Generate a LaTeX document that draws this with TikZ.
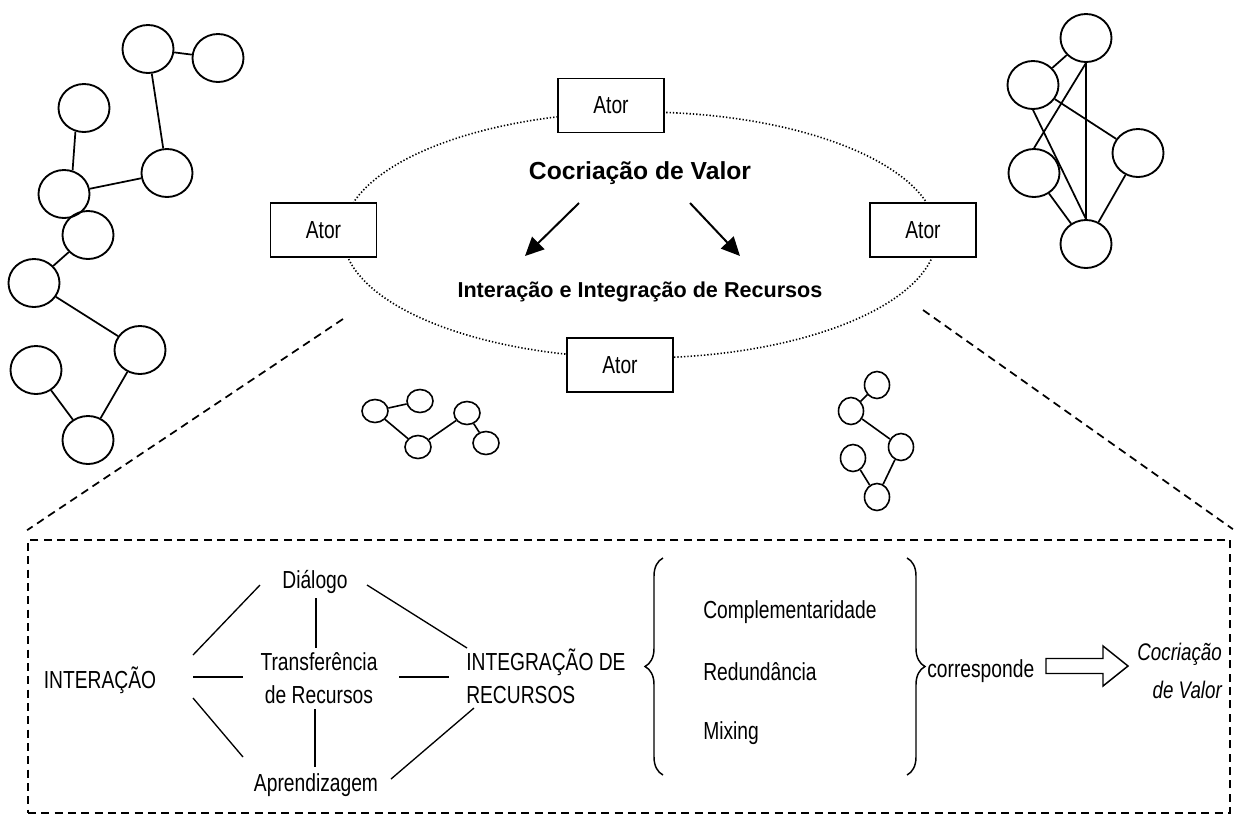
\documentclass[tikz,border=0pt]{standalone}
\usepackage{fontspec}
\setmainfont{Liberation Sans}
\newfontfamily\condfont{Liberation Sans}[FakeStretch=0.78]
\usetikzlibrary{shapes.geometric,arrows.meta,calc,decorations.pathreplacing}

\begin{document}
\begin{tikzpicture}[x=0.75pt,y=-0.75pt,
  bubble/.style={ellipse,draw,line width=1.4pt,minimum width=38.25pt,minimum height=36pt,inner sep=0pt},
  smallbub/.style={ellipse,draw,line width=1.2pt,minimum width=19.5pt,minimum height=17.25pt,inner sep=0pt},
  tallbub/.style={ellipse,draw,line width=1.2pt,minimum width=18.75pt,minimum height=20.25pt,inner sep=0pt},
  netline/.style={line width=1.3pt},
  atorbox/.style={draw,fill=white,line width=1.4pt,minimum width=79.5pt,minimum height=40.5pt,inner sep=0pt,
                  font=\condfont\fontsize{18.5}{22}\selectfont},
  txt/.style={inner sep=0pt,font=\condfont\fontsize{18.5}{24.5}\selectfont},
  joinline/.style={line width=1pt},
  zoomline/.style={line width=1.3pt,dash pattern=on 6pt off 4pt},
  flowarrow/.style={line width=1.5pt,-{Triangle[length=14pt,width=13pt]}},
]
\useasboundingbox (0,0) rectangle (1235,815);
\fill[white] (0,0) rectangle (1235,815);

% ---------- network, upper left ----------
\node[bubble] (A) at (148,49) {};
\node[bubble] (B) at (218,58) {};
\node[bubble] (C) at (84,108) {};
\node[bubble] (D) at (167,173) {};
\node[bubble] (E) at (64,194) {};
\node[bubble] (F) at (88,235) {};
\node[bubble] (G) at (34,283) {};
\node[bubble] (H) at (140,350) {};
\node[bubble] (I) at (36,370) {};
\node[bubble] (J) at (88,440) {};
\draw[netline] (A) -- (B);
\draw[netline] (A) -- (D);
\draw[netline] (C.250) -- (E.70);
\draw[netline] (E) -- (D);
\draw[netline] (F) -- (G);
\draw[netline] (G) -- (H);
\draw[netline] (I) -- (J);
\draw[netline] (H) -- (J);

% ---------- network, upper right ----------
\node[bubble] (P1) at (1086,38) {};
\node[bubble] (P2) at (1033,85) {};
\node[bubble] (P3) at (1138,153) {};
\node[bubble] (P4) at (1034,173) {};
\node[bubble] (P5) at (1086,244) {};
\draw[netline] (P1) -- (P2);
\draw[netline] (P1.south) -- (P4.north);
\draw[netline] (P1.south) -- (P5.north);
\draw[netline] (P2) -- (P3);
\draw[netline] (P2.south) -- (P5.north);
\draw[netline] (P4) -- (P5);
\draw[netline] (P3) -- (P5);

% ---------- small networks ----------
\node[smallbub] (S1) at (375,411) {};
\node[smallbub] (S2) at (420,401) {};
\node[smallbub] (S3) at (418,447) {};
\node[smallbub] (S4) at (467,413) {};
\node[smallbub] (S5) at (486,443) {};
\draw[netline,line width=1.2pt] (S1) -- (S2);
\draw[netline,line width=1.2pt] (S1) -- (S3);
\draw[netline,line width=1.2pt] (S3) -- (S4);
\draw[netline,line width=1.2pt] (S4) -- (S5);

\node[tallbub] (T1) at (877,385) {};
\node[tallbub] (T2) at (851,411) {};
\node[tallbub] (T3) at (901,447) {};
\node[tallbub] (T4) at (853,458) {};
\node[tallbub] (T5) at (877,497) {};
\draw[netline,line width=1.2pt] (T1) -- (T2);
\draw[netline,line width=1.2pt] (T2) -- (T3);
\draw[netline,line width=1.2pt] (T3) -- (T5);
\draw[netline,line width=1.2pt] (T4) -- (T5);

% ---------- actors around the value co-creation ring ----------
\node[ellipse,draw,line width=1.2pt,dash pattern=on 1pt off 1.5pt,
      minimum width=445.5pt,minimum height=184.5pt,inner sep=0pt] (ring) at (640,235) {};
\node[atorbox] (atorT) at (611,105.5) {Ator};
\node[atorbox] (atorL) at (323.5,230) {Ator};
\node[atorbox] (atorR) at (923,230) {Ator};
\node[atorbox] (atorB) at (620,365) {Ator};

\node[inner sep=0pt,font=\bfseries\fontsize{18.5}{22}\selectfont] (cocri) at (640,173) {Cocriação de Valor};
\node[inner sep=0pt,font=\bfseries\fontsize{16.2}{20}\selectfont] (intint) at (640,292) {Interação e Integração de Recursos};
\draw[flowarrow] ($(cocri)+(-61,30)$) -- ($(cocri)+(-115,83)$);
\draw[flowarrow] ($(cocri)+(50,30)$) -- ($(cocri)+(100,83)$);

% ---------- detail frame ----------
\node[draw,zoomline,minimum width=901.5pt,minimum height=204.75pt,inner sep=0pt] (frame) at (629,676.5) {};
\draw[zoomline] ($(ring.center)+(-297,84)$) -- ($(frame.north west)+(0,-9)$);
\draw[zoomline] ($(ring.center)+(283,75)$) -- ($(frame.north east)+(2,-10)$);

\node[txt] (inter) at (100,680) {INTERAÇÃO};
\node[txt] (dial) at (315,582) {Diálogo};
\node[txt,align=center] (transf) at (319,678) {Transferência\\de Recursos};
\node[txt] (aprend) at (316,785) {Aprendizagem};
\node[txt,align=left,anchor=west] (integ) at (466,676) {INTEGRAÇÃO DE\\RECURSOS};

\draw[joinline] ($(inter)+(93,-25)$) -- ($(dial)+(-55,3)$);
\draw[joinline] ($(inter)+(93,-3)$) -- ($(transf)+(-76,-1)$);
\draw[joinline] ($(inter)+(93,18)$) -- ($(aprend)+(-73,-28)$);
\draw[joinline] ($(dial)+(1,16)$) -- ($(transf)+(-3,-30)$);
\draw[joinline] ($(transf)+(-4,31)$) -- ($(aprend)+(-1,-18)$);
\draw[joinline] ($(dial)+(52,3)$) -- ($(integ.west)+(1,-28)$);
\draw[joinline] ($(transf)+(80,-1)$) -- ($(integ.west)+(-17,1)$);
\draw[joinline] ($(aprend)+(75,-6)$) -- ($(integ.west)+(8,32)$);

% resource integration modes
\draw[line width=1.1pt,decorate,decoration={brace,amplitude=13.5pt}] (663,775) -- (663,558);
\draw[line width=1.1pt,decorate,decoration={brace,amplitude=13.5pt}] (907,558) -- (907,775);
\node[txt,anchor=west] (compl) at (703,612) {Complementaridade};
\node[txt,anchor=west] (redun) at (703,672) {Redundância};
\node[txt,anchor=west] (mixing) at (703,733) {Mixing};

\node[txt,anchor=west] (corr) at (927,671) {corresponde};
\node[txt,anchor=east,align=right,font=\condfont\itshape\fontsize{18}{28}\selectfont] (cocv) at (1222,671) {Cocriação\\de Valor};

% hollow block arrow
\coordinate (arrowtail) at (1046,666);
\draw[line width=1.1pt] (arrowtail) ++(0,-7.5) -- ++(57,0) -- ++(0,-12.5) -- ++(25,20)
      -- ++(-25,20) -- ++(0,-12.5) -- ++(-57,0) -- cycle;
\end{tikzpicture}
\end{document}
